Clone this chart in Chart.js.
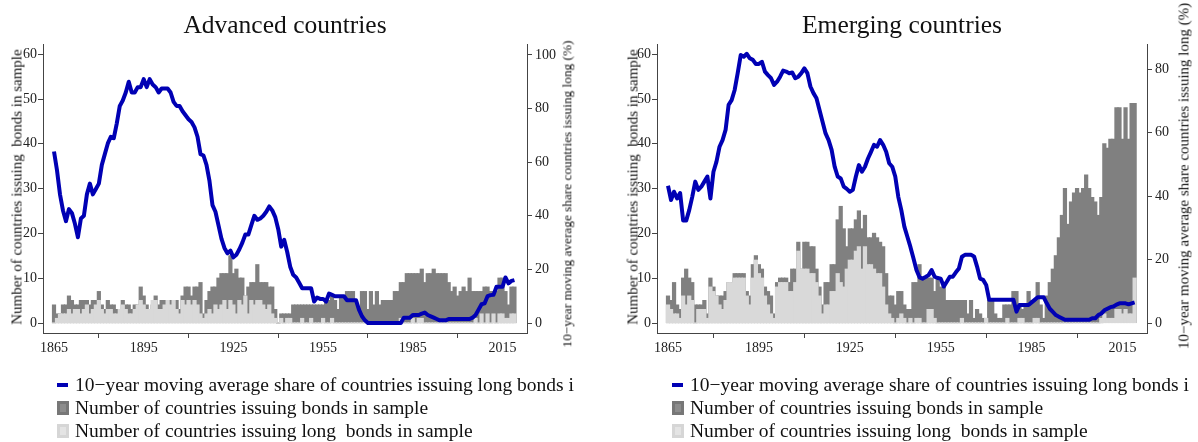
<!DOCTYPE html>
<html>
<head>
<meta charset="utf-8">
<script src="https://cdn.jsdelivr.net/npm/chart.js@4.4.1/dist/chart.umd.min.js"></script>
<style>
  body { margin: 0; background: #fff; }
  #page { position: relative; width: 1198px; height: 442px; overflow: hidden; background: #fff;
          font-family: "Liberation Serif", "DejaVu Serif", serif; color: #111; }
  canvas { position: absolute; top: 0; }
  .title { position: absolute; top: 10px; font-size: 25.5px; line-height: 30px; white-space: nowrap; transform: translateX(-50%); }
  .ytitle { position: absolute; white-space: nowrap; transform: translate(-50%, -50%) rotate(-90deg); line-height: 1; }
  .legend { position: absolute; font-size: 19.5px; line-height: 23px; white-space: nowrap; }
  .legend div { position: relative; padding-left: 18px; }
  .sym { position: absolute; left: 0; }
  .sym.line { top: 10px; width: 11px; height: 4px; background: #0000b4; }
  .sym.box { top: 5px; width: 12px; height: 14px; box-sizing: border-box; }
  .sym.dark { background: #8c8c8c; border: 3px solid #777; }
  .sym.light { background: #e4e4e4; border: 3px solid #d6d6d6; }
</style>
</head>
<body>
<div id="page">
  <canvas id="advChart" width="599" height="442" style="left:0"></canvas>
  <canvas id="emgChart" width="599" height="442" style="left:599px"></canvas>

  <div class="title" style="left:285px">Advanced countries</div>
  <div class="title" style="left:902px">Emerging countries</div>

  <div class="ytitle" style="left:17px; top:187px; font-size:15px">Number of countries issuing&nbsp; bonds in sample</div>
  <div class="ytitle" style="left:567px; top:194px; font-size:13.3px">10&minus;year moving average share countries issuing long (%)</div>
  <div class="ytitle" style="left:633px; top:187px; font-size:15px">Number of countries issuing&nbsp; bonds in sample</div>
  <div class="ytitle" style="left:1184px; top:176px; font-size:15px">10&minus;year moving average share countries issuing long (%)</div>

  <div class="legend" style="left:57px; top:373px">
    <div><span class="sym line"></span>10&minus;year moving average share of countries issuing long bonds i</div>
    <div><span class="sym box dark"></span>Number of countries issuing bonds in sample</div>
    <div><span class="sym box light"></span>Number of countries issuing long&nbsp; bonds in sample</div>
  </div>
  <div class="legend" style="left:672px; top:373px">
    <div><span class="sym line"></span>10&minus;year moving average share of countries issuing long bonds i</div>
    <div><span class="sym box dark"></span>Number of countries issuing bonds in sample</div>
    <div><span class="sym box light"></span>Number of countries issuing long&nbsp; bonds in sample</div>
  </div>
</div>

<script>
// years 1865..2019
const years = [];
for (let y = 1865; y <= 2019; y++) years.push(y);

const tickYears = [1865, 1895, 1925, 1955, 1985, 2015];

// Advanced countries
const advTotal = [
    4, 2, 2, 4, 4, 6, 5, 4, 4, 5,
    5, 5, 4, 5, 5, 7, 4, 3, 5, 4,
    4, 3, 3, 5, 4, 4, 3, 4, 4, 8,
    6, 4, 3, 4, 6, 4, 5, 5, 5, 5,
    5, 5, 3, 6, 8, 8, 6, 8, 8, 9,
    2, 5, 7, 8, 8, 10, 11, 11, 11, 15,
    11, 12, 10, 10, 6, 8, 9, 9, 13, 9,
    9, 9, 8, 8, 3, 0, 2, 2, 2, 2,
    4, 4, 4, 4, 4, 4, 4, 4, 4, 4,
    4, 5, 5, 6, 5, 3, 6, 6, 7, 7,
    7, 5, 3, 7, 7, 3, 7, 4, 7, 4,
    5, 5, 5, 5, 7, 7, 9, 9, 11, 11,
    11, 11, 11, 12, 9, 11, 11, 12, 11, 11,
    11, 11, 9, 7, 8, 6, 7, 8, 7, 10,
    7, 7, 7, 7, 8, 8, 7, 7, 7, 10,
    10, 7, 4, 8, 8
];
const advLong = [
    0, 1, 2, 2, 2, 3, 2, 3, 3, 2,
    3, 4, 2, 3, 4, 5, 3, 2, 3, 3,
    2, 2, 3, 4, 3, 2, 2, 3, 4, 5,
    4, 3, 3, 5, 5, 3, 3, 4, 5, 4,
    5, 3, 2, 5, 4, 5, 4, 5, 4, 2,
    1, 2, 3, 2, 4, 3, 4, 5, 3, 5,
    4, 2, 5, 4, 6, 2, 5, 4, 5, 5,
    4, 3, 4, 2, 1, 0, 1, 0, 1, 1,
    0, 0, 0, 1, 0, 0, 1, 0, 0, 0,
    1, 0, 0, 1, 0, 0, 0, 0, 0, 0,
    0, 0, 0, 0, 0, 0, 0, 0, 0, 0,
    0, 0, 0, 0, 0, 0, 1, 0, 0, 0,
    1, 0, 1, 1, 0, 0, 0, 0, 0, 0,
    0, 0, 0, 0, 0, 0, 0, 0, 0, 0,
    0, 1, 0, 2, 0, 2, 0, 2, 0, 2,
    2, 1, 1, 2, 2
];
const advShare = [
    64, 57, 48, 42, 38, 42.5, 41, 37, 32, 39,
    40, 48, 52, 48, 50, 52, 59, 63, 67, 69.5,
    69, 74.5, 81, 83, 86, 90, 86, 86, 88, 88,
    91, 88, 91, 89, 88, 86, 87.5, 87.5, 87.5, 86,
    82.5, 81, 81, 79, 77.5, 76, 75, 73, 69.5, 63,
    62.5, 59, 53, 44, 41.5, 36.5, 31.5, 28, 26, 27,
    24.5, 25.5, 27.5, 30, 33, 33, 36.5, 40, 38.5, 39,
    40, 41.5, 43.5, 42, 39.5, 35, 28.5, 31, 26.5, 21,
    18, 17, 15, 13, 13, 13, 13, 8, 9.5, 9,
    9, 8, 11, 10.5, 10, 10, 10, 10, 8.5, 8.5,
    8.5, 8.5, 5, 2.5, 1, 0, 0, 0, 0, 0,
    0, 0, 0, 0, 0, 0, 0, 2, 2, 2,
    3, 3, 3, 3.5, 3.9, 3, 2.5, 2, 1.5, 1,
    1, 1, 1.5, 1.5, 1.5, 1.5, 1.5, 1.5, 1.5, 1.5,
    2, 3, 5, 7, 7.3, 10, 10.4, 10.5, 13.5, 13.5,
    13.5, 17, 14.8, 15.7, 16
];

// Emerging countries
const emgTotal = [
    6, 5, 9, 4, 3, 10, 12, 10, 9, 4,
    4, 4, 5, 2, 10, 8, 6, 6, 6, 7,
    9, 9, 11, 11, 11, 11, 7, 6, 13, 15,
    13, 12, 8, 7, 6, 2, 9, 10, 10, 10,
    9, 12, 12, 18, 12, 18, 18, 17, 17, 12,
    8, 4, 9, 9, 13, 13, 23, 26, 21, 17,
    21, 21, 23, 25, 21, 24, 19, 19, 20, 19,
    18, 17, 11, 6, 6, 4, 7, 7, 4, 3,
    3, 9, 9, 13, 10, 10, 10, 10, 7, 10,
    8, 8, 5, 5, 5, 5, 5, 5, 5, 2,
    5, 1, 3, 2, 1, 1, 5, 5, 2, 1,
    1, 4, 4, 4, 7, 7, 4, 3, 4, 7,
    5, 5, 9, 4, 1, 6, 9, 12, 15, 19,
    24, 30, 22, 27, 29, 30, 29, 30, 33, 30,
    28, 27, 24, 28, 40, 39, 41, 41, 48, 48,
    41, 48, 41, 49, 49
];
const emgLong = [
    4, 3, 2, 2, 1, 6, 4, 6, 5, 0,
    3, 3, 3, 1, 8, 7, 6, 4, 3, 5,
    9, 9, 10, 10, 10, 10, 6, 4, 10, 14,
    11, 10, 6, 4, 2, 1, 8, 9, 9, 9,
    7, 7, 9, 16, 12, 12, 12, 11, 11, 9,
    6, 2, 4, 4, 7, 7, 11, 9, 8, 12,
    14, 14, 16, 17, 12, 17, 13, 13, 12, 11,
    11, 8, 4, 2, 1, 0, 1, 2, 1, 0,
    1, 0, 1, 1, 0, 0, 3, 3, 1, 0,
    0, 0, 0, 0, 0, 0, 0, 1, 0, 0,
    0, 0, 0, 0, 0, 1, 0, 0, 0, 0,
    0, 0, 1, 0, 0, 0, 1, 1, 0, 0,
    0, 1, 1, 0, 0, 0, 0, 0, 0, 0,
    0, 0, 0, 0, 0, 0, 0, 0, 0, 0,
    0, 0, 0, 1, 2, 1, 1, 1, 3, 3,
    2, 3, 2, 2, 10
];
const emgShare = [
    43.3, 38.8, 41.4, 39.3, 41, 32.3, 32.3, 35.6, 39.8, 44.6,
    42, 43, 44.6, 46.2, 39.3, 47.7, 50.9, 55.6, 57.7, 60.9,
    68.8, 70.3, 73.5, 78.8, 84.5, 84, 84.9, 83.5, 83, 81.7,
    81.7, 82.4, 79.3, 78.2, 77.2, 75.1, 76.1, 77.7, 79.6, 79.3,
    78.8, 79, 77.2, 77.7, 78.8, 80.3, 78.8, 74.6, 72.5, 70.9,
    67.2, 63.5, 59.8, 57.7, 54.6, 49.3, 46.2, 45.6, 43, 42.3,
    41.4, 42, 46.2, 49.8, 47.7, 49.3, 51.9, 54, 56.2, 55.6,
    57.7, 56.2, 54, 50.4, 49.3, 46.2, 39.8, 35.6, 30.4, 27.2,
    24, 20.4, 16.7, 14.4, 14, 14.5, 15.1, 16.7, 14.6, 14.2,
    14, 11.5, 13, 14.6, 14.6, 16, 17.2, 20.9, 21.5, 21.5,
    21.5, 21, 17.8, 14, 13.6, 12, 7.3, 7.3, 7.3, 7.3,
    7.3, 7.3, 7.3, 7.3, 7.3, 3.6, 5.7, 5.7, 5.7, 5.7,
    6.5, 7.3, 8.1, 8.1, 8.1, 6.2, 4.5, 3.5, 2.5, 2,
    1.5, 1, 1, 1, 1, 1, 1, 1, 1, 1,
    1.5, 1.5, 2.5, 3, 4, 4.5, 5, 5.2, 5.8, 6.2,
    6.2, 6.2, 5.9, 6.2, 6.5
];

Chart.defaults.font.family = "'Liberation Serif', 'DejaVu Serif', serif";
Chart.defaults.font.size = 14;
Chart.defaults.color = '#222';

const axisColor = '#444';

function toPoints(values) {
    return years.map((yr, i) => ({ x: yr, y: values[i] }));
}

function fixedTicks(list) {
    return function(scale) {
        scale.ticks = list.map(v => ({ value: v }));
    };
}

function axisGrid() {
    return { display: true, drawOnChartArea: false, drawTicks: true, tickLength: 5, color: axisColor, lineWidth: 1 };
}

function drawPanel(canvasId, total, long, share, cfg) {
    const ctx = document.getElementById(canvasId).getContext('2d');
    return new Chart(ctx, {
        type: 'bar',
        data: {
            datasets: [
                {
                    type: 'line',
                    data: toPoints(share),
                    yAxisID: 'y2',
                    borderColor: '#0000b4',
                    borderWidth: 4,
                    pointRadius: 0,
                    tension: 0,
                    borderJoinStyle: 'round',
                    order: 0
                },
                {
                    data: toPoints(long),
                    yAxisID: 'y',
                    backgroundColor: '#d9d9d9',
                    borderWidth: 0,
                    inflateAmount: 0.6,
                    grouped: false,
                    barPercentage: 1,
                    categoryPercentage: 1,
                    order: 1
                },
                {
                    data: toPoints(total),
                    yAxisID: 'y',
                    backgroundColor: '#808080',
                    borderWidth: 0,
                    inflateAmount: 0.6,
                    grouped: false,
                    barPercentage: 1,
                    categoryPercentage: 1,
                    order: 2
                }
            ]
        },
        options: {
            responsive: false,
            animation: false,
            layout: { padding: { top: 44 } },
            plugins: {
                legend: { display: false },
                tooltip: { enabled: false }
            },
            scales: {
                x: {
                    type: 'linear',
                    min: cfg.xMin,
                    max: cfg.xMax,
                    offset: false,
                    afterBuildTicks: fixedTicks(tickYears),
                    afterFit: s => { s.height = 109; },
                    ticks: { padding: 2, maxRotation: 0, callback: v => String(v) },
                    grid: axisGrid(),
                    border: { display: true, color: axisColor, width: 1 }
                },
                y: {
                    position: 'left',
                    min: -2.23,
                    max: 62.28,
                    afterBuildTicks: fixedTicks([0, 10, 20, 30, 40, 50, 60]),
                    afterFit: s => { s.width = cfg.leftWidth; },
                    ticks: { padding: 1 },
                    grid: axisGrid(),
                    border: { display: true, color: axisColor, width: 1 }
                },
                y2: {
                    position: 'right',
                    min: cfg.y2Min,
                    max: cfg.y2Max,
                    afterBuildTicks: fixedTicks(cfg.y2Ticks),
                    afterFit: s => { s.width = cfg.rightWidth; },
                    ticks: { padding: 3 },
                    grid: axisGrid(),
                    border: { display: true, color: axisColor, width: 1 }
                }
            }
        }
    });
}

drawPanel('advChart', advTotal, advLong, advShare, {
    xMin: 1861.32, xMax: 2023.2,
    leftWidth: 43, rightWidth: 72,
    y2Min: -3.73, y2Max: 104.1,
    y2Ticks: [0, 20, 40, 60, 80, 100]
});

drawPanel('emgChart', emgTotal, emgLong, emgShare, {
    xMin: 1861.37, xMax: 2023.08,
    leftWidth: 58, rightWidth: 51,
    y2Min: -3.15, y2Max: 88.0,
    y2Ticks: [0, 20, 40, 60, 80]
});
</script>
</body>
</html>
